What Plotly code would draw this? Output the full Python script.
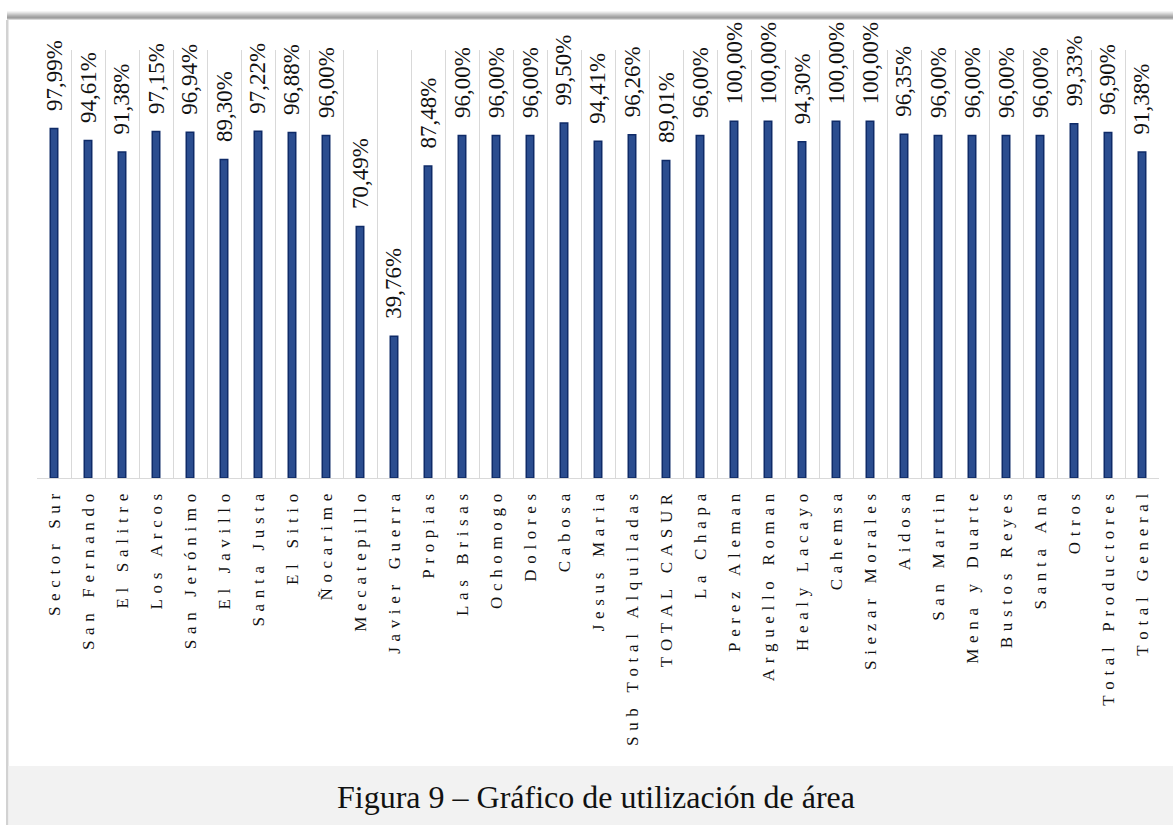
import plotly.graph_objects as go

# Utilización de área por finca / grupo (%)
categorias = [
    "Sector Sur", "San Fernando", "El Salitre", "Los Arcos", "San Jerónimo",
    "El Javillo", "Santa Justa", "El Sitio", "Ñocarime", "Mecatepillo",
    "Javier Guerra", "Propias", "Las Brisas", "Ochomogo", "Dolores",
    "Cabosa", "Jesus Maria", "Sub Total Alquiladas", "TOTAL CASUR", "La Chapa",
    "Perez Aleman", "Arguello Roman", "Healy Lacayo", "Cahemsa", "Siezar Morales",
    "Aidosa", "San Martin", "Mena y Duarte", "Bustos Reyes", "Santa Ana",
    "Otros", "Total Productores", "Total General",
]
utilizacion = [
    97.99, 94.61, 91.38, 97.15, 96.94,
    89.30, 97.22, 96.88, 96.00, 70.49,
    39.76, 87.48, 96.00, 96.00, 96.00,
    99.50, 94.41, 96.26, 89.01, 96.00,
    100.00, 100.00, 94.30, 100.00, 100.00,
    96.35, 96.00, 96.00, 96.00, 96.00,
    99.33, 96.90, 91.38,
]
titulo = "Figura 9 – Gráfico de utilización de área"

W, H = 1173, 825
L, R, T, B = 37, 14, 50, 347
PW, PH = W - L - R, H - T - B
SERIF = "Times New Roman, Liberation Serif, DejaVu Serif, serif"


def px(x):
    return (x - L) / PW


def py(y):
    return (H - B - y) / PH


def espaciado(s):
    # widen the letter spacing of the axis labels
    return "\u2004".join(s)


def fmt(v):
    return f"{v:.2f}".replace(".", ",") + "%"


fig = go.Figure()
fig.add_trace(go.Bar(
    x=categorias,
    y=utilizacion,
    width=0.22,
    marker=dict(color="#2B4D8F", line=dict(color="#0F2B68", width=1.5)),
    hoverinfo="skip",
))

annotations = []
for c, v in zip(categorias, utilizacion):
    annotations.append(dict(
        x=c, y=v, xref="x", yref="y", text=fmt(v), showarrow=False,
        textangle=-90, xanchor="center", yanchor="bottom", yshift=15,
        font=dict(family=SERIF, size=23, color="#111111"),
    ))

annotations.append(dict(
    x=px(596), y=py(797), xref="paper", yref="paper", text=titulo,
    showarrow=False, xanchor="center", yanchor="middle",
    font=dict(family=SERIF, size=32, color="#111111"),
))

shapes = []
# top shadow band
shadow = ["#F4F4F4", "#E6E6E6", "#D6D6D6", "#C6C6C6", "#B6B6B6", "#A8A8A8", "#9E9E9E", "#B0B0B0", "#D8D8D8"]
y0 = 11
for col in shadow:
    shapes.append(dict(type="rect", xref="paper", yref="paper",
                       x0=px(7), x1=px(W), y0=py(y0), y1=py(y0 + 1.1),
                       fillcolor=col, line=dict(width=0), layer="above"))
    y0 += 1
# left frame line
shapes.append(dict(type="rect", xref="paper", yref="paper",
                   x0=px(6), x1=px(8.5), y0=py(20), y1=py(H),
                   fillcolor="#D2D2D2", line=dict(width=0), layer="above"))
# caption band
shapes.append(dict(type="rect", xref="paper", yref="paper",
                   x0=px(8.5), x1=px(W), y0=py(766), y1=py(H),
                   fillcolor="#F2F2F2", line=dict(width=0), layer="above"))

fig.update_layout(
    width=W, height=H,
    margin=dict(l=L, r=R, t=T, b=B, pad=0),
    paper_bgcolor="white", plot_bgcolor="white",
    showlegend=False,
    bargap=0.5,
    annotations=annotations,
    shapes=shapes,
    xaxis=dict(
        type="category",
        range=[-0.5, len(categorias) - 0.5],
        tickmode="array",
        tickvals=categorias,
        ticktext=[espaciado(c) for c in categorias],
        tickangle=-90,
        tickson="boundaries",
        ticks="",
        ticklabelstandoff=8,
        showgrid=True, gridcolor="#D9D9D9", gridwidth=1,
        showline=True, linecolor="#D9D9D9", linewidth=1,
        tickfont=dict(family=SERIF, size=17, color="#111111"),
        fixedrange=True,
    ),
    yaxis=dict(
        range=[0, 120], visible=False, showgrid=False, zeroline=False,
        fixedrange=True,
    ),
)

fig.write_html("out.html", config={"displayModeBar": False})
